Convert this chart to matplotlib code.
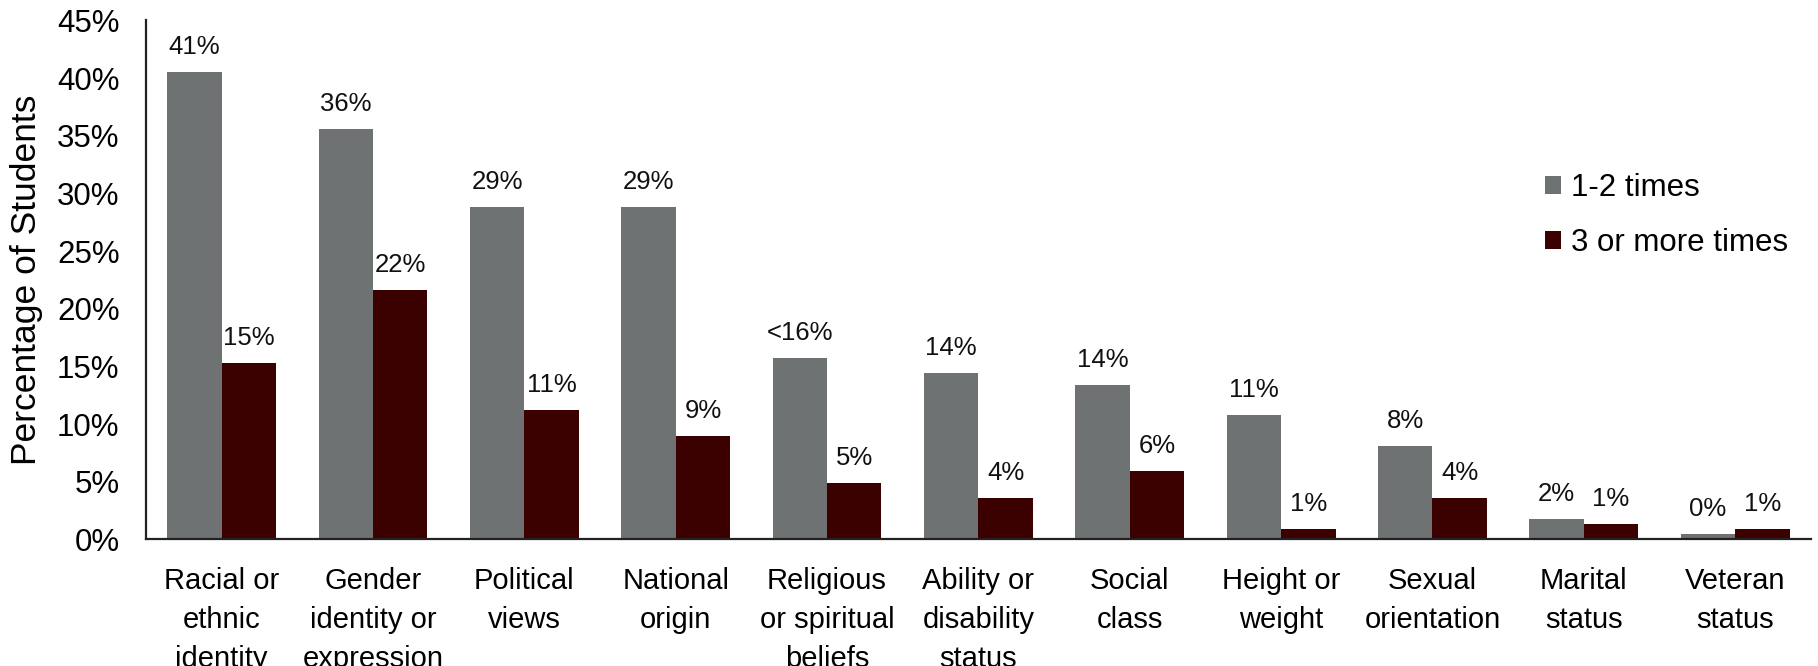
import matplotlib
matplotlib.use("Agg")
import matplotlib.pyplot as plt
import numpy as np

categories = ["Racial or\nethnic\nidentity", "Gender\nidentity or\nexpression", "Political\nviews",
              "National\norigin", "Religious\nor spiritual\nbeliefs", "Ability or\ndisability\nstatus",
              "Social\nclass", "Height or\nweight", "Sexual\norientation", "Marital\nstatus", "Veteran\nstatus"]
series_names = ["1-2 times", "3 or more times"]
values_12 = [40.5, 35.6, 28.8, 28.8, 15.7, 14.4, 13.4, 10.8, 8.1, 1.8, 0.45]
values_3p = [15.3, 21.6, 11.2, 9.0, 4.9, 3.6, 5.9, 0.9, 3.6, 1.3, 0.9]
labels_12 = ["41%", "36%", "29%", "29%", "<16%", "14%", "14%", "11%", "8%", "2%", "0%"]
labels_3p = ["15%", "22%", "11%", "9%", "5%", "4%", "6%", "1%", "4%", "1%", "1%"]
yticks = [0, 5, 10, 15, 20, 25, 30, 35, 40, 45]
ytick_labels = [f"{t}%" for t in yticks]

plt.rcParams['font.family'] = ['Liberation Sans', 'DejaVu Sans']

fig = plt.figure(figsize=(18.18, 6.66), dpi=100)
ax = fig.add_axes([0.0803, 0.190, 0.9157, 0.7794])

c_gray = "#6f7273"
c_red = "#3b0000"
w = 0.36
x = np.arange(len(categories))
b1 = ax.bar(x - w / 2, values_12, w, color=c_gray, label=series_names[0])
b2 = ax.bar(x + w / 2, values_3p, w, color=c_red, label=series_names[1])

for bars, labs in ((b1, labels_12), (b2, labels_3p)):
    for rect, lab in zip(bars, labs):
        ax.annotate(lab, (rect.get_x() + rect.get_width() / 2, rect.get_height()),
                    xytext=(0, 13), textcoords="offset points", ha="center", va="baseline",
                    fontsize=18.5, color="#111111")

ax.set_xlim(-0.5, 10.5)
ax.set_ylim(0, 45)
ax.set_yticks(yticks)
ax.set_yticklabels(ytick_labels, fontsize=22.5)
ax.set_xticks(x)
ax.set_xticklabels(categories, fontsize=21, linespacing=1.5)
ax.tick_params(axis="y", length=0, pad=19)
ax.tick_params(axis="x", length=0, pad=20)
for s in ("top", "right"):
    ax.spines[s].set_visible(False)
for s in ("left", "bottom"):
    ax.spines[s].set_linewidth(1.6)
    ax.spines[s].set_color("#222222")

ax.set_ylabel("Percentage of Students", fontsize=25.5)
ax.yaxis.set_label_coords(-0.062, 0.5)

ax.legend(loc="upper left", bbox_to_anchor=(1545 / 1818, 1 - 173 / 666), bbox_transform=fig.transFigure,
          frameon=False, fontsize=22.5, handlelength=0.5, handleheight=0.5, handletextpad=0.32,
          labelspacing=0.79, borderpad=0, borderaxespad=0)

fig.savefig("out.png", dpi=100)
